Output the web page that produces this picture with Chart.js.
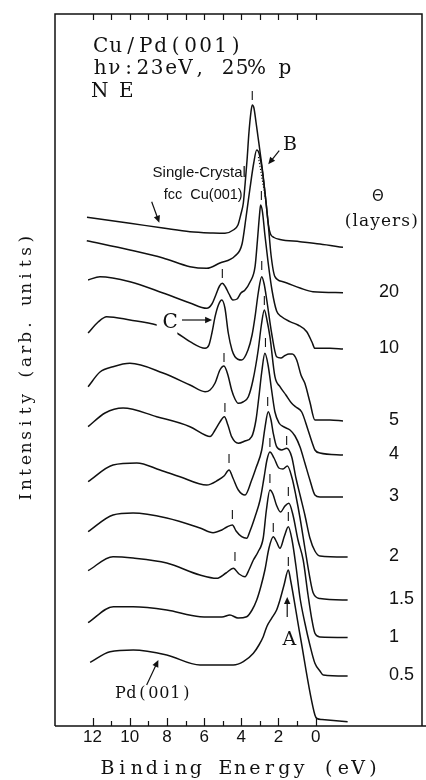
<!DOCTYPE html>
<html><head><meta charset="utf-8">
<script src="https://cdn.jsdelivr.net/npm/chart.js@4.4.1/dist/chart.umd.min.js"></script>
<style>html,body{margin:0;padding:0;background:#fff;}canvas{display:block;}</style>
</head><body>
<canvas id="c" width="426" height="780"></canvas>
<script>
// ---------- data (binding energy in eV, intensity in arb. units incl. vertical offset) ----------
const xTickValues = [12, 10, 8, 6, 4, 2, 0];
const minorTickValues = [12, 11, 10, 9, 8, 7, 6, 5, 4, 3, 2, 1, 0];
const coverageLabels = ['20', '10', '5', '4', '3', '2', '1.5', '1', '0.5'];

const eCu = [12.30, 9.99, 8.21, 6.76, 5.52, 4.88, 4.43, 4.18, 4.02, 3.89, 3.80, 3.69, 3.59, 3.48, 3.41, 3.32, 3.21, 3.10, 2.99, 2.83, 2.67, 2.54, 2.43, 2.24, 1.92, 0.84, -0.23, -1.47];
const iCu = [508.7, 502.7, 498, 494.3, 493, 492.7, 496, 501, 512, 523, 541, 566, 593, 614, 621, 618, 604, 589, 574, 551, 524, 501, 492, 488.5, 486.5, 484.3, 482, 478.7];

const e20 = [12.31, 9.99, 8.21, 6.76, 5.86, 5.15, 4.34, 3.96, 3.75, 3.53, 3.34, 3.17, 3.05, 2.89, 2.73, 2.56, 2.40, 2.19, 1.76, 0.84, 0.15, -1.47];
const i20 = [485.3, 476, 468, 459.3, 457.7, 463, 470, 482, 508, 538, 562, 576, 573, 558, 534, 504, 471, 449.3, 444.3, 438, 434.3, 433.3];

const e10 = [12.24, 11.60, 9.99, 8.21, 6.76, 5.86, 5.58, 5.37, 5.17, 5.02, 4.85, 4.66, 4.45, 4.23, 4.02, 3.80, 3.53, 3.26, 3.13, 3.02, 2.96, 2.86, 2.73, 2.56, 2.35, 2.10, 1.83, 1.38, 0.95, 0.48, 0.20, 0.04, -0.77, -1.47];
const i10 = [446, 449.3, 444.3, 433, 423, 417.7, 422, 431, 440, 442.7, 439, 432, 426, 427, 433, 436, 444, 459.3, 486, 511, 521, 514, 491, 464, 436, 415, 409.3, 404.3, 401, 394.3, 384, 377.7, 377.7, 377];

const e5 = [12.24, 11.70, 11.24, 9.99, 8.55, 7.47, 6.76, 5.95, 5.74, 5.58, 5.41, 5.23, 5.05, 4.88, 4.70, 4.50, 4.34, 3.98, 3.64, 3.42, 3.26, 3.08, 2.90, 2.77, 2.63, 2.37, 2.10, 1.87, 1.65, 1.44, 1.26, 1.02, 0.79, 0.58, 0.31, 0.04, -0.77, -1.47];
const i5 = [393, 404, 409.3, 406, 401, 393, 384.3, 377.7, 381, 393, 409.3, 421, 426, 418, 393, 376, 369.3, 366, 376, 391, 409.3, 434, 449.3, 442, 426, 393, 369.3, 368, 370.5, 372, 372, 366, 351, 342.7, 324, 306, 306, 305];

const e4 = [12.24, 11.60, 10.90, 9.99, 8.21, 6.76, 5.95, 5.68, 5.41, 5.15, 4.93, 4.72, 4.52, 4.34, 4.16, 3.91, 3.62, 3.37, 3.09, 2.92, 2.76, 2.62, 2.46, 2.19, 1.92, 1.60, 1.29, 1.06, 0.75, 0.41, 0.20, 0.04, -0.23, -1.47];
const i4 = [339.3, 354, 359.3, 362.7, 353, 341, 334.3, 336, 343, 356, 360, 351, 336, 327, 322.7, 324, 329.3, 346, 376, 401, 416, 406, 389.3, 349.3, 339.3, 331, 322.7, 319, 314, 296, 284, 276, 273, 271];

const e3 = [12.24, 11.33, 10.36, 8.55, 6.76, 5.95, 5.68, 5.41, 5.15, 4.91, 4.72, 4.52, 4.16, 3.80, 3.44, 3.21, 3.06, 2.90, 2.73, 2.56, 2.37, 2.19, 1.97, 1.70, 1.38, 1.11, 0.84, 0.58, 0.31, 0.04, -0.23, -1.47];
const i3 = [299.3, 313, 318, 309.3, 299.3, 291, 289.5, 296, 304, 309.3, 301, 289.3, 282.7, 285, 289.3, 306, 328, 354, 372.7, 361, 336, 314, 303, 299, 296, 290, 279, 263, 246, 231, 229, 229];

const e2 = [12.24, 10.90, 9.62, 8.37, 7.30, 5.86, 5.24, 4.93, 4.66, 4.45, 4.16, 3.80, 3.44, 3.21, 2.90, 2.73, 2.55, 2.40, 2.28, 2.10, 1.83, 1.56, 1.29, 1.06, 0.84, 0.58, 0.31, 0.04, -0.23, -1.72];
const i2 = [244.3, 261, 263, 256, 249.3, 241, 246, 250, 256, 248, 236, 231, 246, 258, 276, 298, 314.3, 306, 292.7, 279.3, 276, 277.7, 269.3, 248, 231, 211, 188, 175, 170, 169];

const e15 = [12.24, 10.90, 9.82, 8.01, 6.22, 5.52, 5.05, 4.77, 4.48, 4.28, 3.98, 3.71, 3.53, 3.26, 2.99, 2.78, 2.62, 2.46, 2.24, 1.98, 1.76, 1.52, 1.27, 1.06, 0.84, 0.58, 0.31, 0.13, -0.23, -1.72];
const i15 = [194.3, 211, 213, 208, 198, 193.3, 196, 199, 201, 195, 189.3, 187.7, 195, 209.3, 226, 248, 266, 274, 268, 258, 257, 260, 248, 230, 208, 178, 148, 133, 127.5, 126];

const e1 = [12.24, 10.90, 9.82, 8.01, 6.22, 5.32, 4.82, 4.43, 4.12, 3.80, 3.59, 3.35, 3.10, 2.82, 2.65, 2.46, 2.30, 2.11, 1.89, 1.65, 1.44, 1.22, 0.95, 0.67, 0.41, 0.20, 0.04, -0.23, -1.72];
const i1 = [155.3, 169.3, 168, 163, 151, 147.7, 153, 157.7, 152, 149.3, 156, 166, 174, 188, 216, 236, 232, 221, 214, 220, 222.7, 211, 186, 166, 131, 106, 92.7, 89, 88.5];

const e05 = [12.24, 10.88, 9.82, 8.01, 6.22, 5.04, 4.61, 4.18, 3.71, 3.42, 3.17, 2.94, 2.73, 2.51, 2.28, 2.10, 1.92, 1.68, 1.47, 1.27, 1.06, 0.84, 0.58, 0.31, 0.04, -0.23, -0.41, -1.72];
const i05 = [103.3, 119.3, 119.3, 116, 109.3, 109, 111, 108, 109.3, 116, 126, 140, 156, 178, 189.3, 184, 177.7, 190, 199.3, 186, 160, 128, 103, 81, 62.7, 55, 51, 50];

const ePd = [12.13, 11.06, 9.81, 8.01, 6.22, 4.43, 3.89, 3.35, 3.05, 2.82, 2.63, 2.37, 2.10, 1.92, 1.70, 1.47, 1.35, 0.84, 0.04, -0.07, -0.34, -1.72];
const iPd = [63.7, 74.3, 76, 71, 61, 61, 64.3, 72.7, 81, 89.3, 99.3, 107.7, 116, 126, 141, 156, 146, 91, 11, 7.5, 6.5, 4.3];

// peak-position marks (energy, intensity just below the dash)
const peakMarkE = [3.41, 2.92, 5.02, 2.90, 2.76, 4.93, 4.88, 2.70, 2.58, 4.66, 1.56, 2.46, 4.48, 2.46, 1.47, 4.34, 2.28, 1.47, 1.47];
const peakMarkV = [626, 526, 448, 456, 421, 364, 314, 379, 320, 263, 281, 279, 207, 243, 230, 165, 194, 205, 160];
const bMarkE = [3.08, 2.70];
const bMarkV = [569, 527];

// ---------- build datasets ----------
const spectra = [
  {label: 'Single-Crystal fcc Cu(001)', e: eCu, v: iCu},
  {label: '20', e: e20, v: i20},
  {label: '10', e: e10, v: i10},
  {label: '5', e: e5, v: i5},
  {label: '4', e: e4, v: i4},
  {label: '3', e: e3, v: i3},
  {label: '2', e: e2, v: i2},
  {label: '1.5', e: e15, v: i15},
  {label: '1', e: e1, v: i1},
  {label: '0.5', e: e05, v: i05},
  {label: 'Pd(001)', e: ePd, v: iPd}
];
const datasets = spectra.map(s => ({
  label: s.label,
  data: s.e.map((x, k) => ({x: x, y: s.v[k]})),
  borderColor: '#111',
  borderWidth: 1.5,
  pointRadius: 0,
  fill: false,
  cubicInterpolationMode: 'monotone'
}));

const SERIF = '"DejaVu Serif", serif';
const SANS = '"Liberation Sans", Arial, sans-serif';

function cellText(ctx, text, x0, y, cell) {
  ctx.textAlign = 'center';
  [...text].forEach((ch, k) => ctx.fillText(ch, x0 + cell * (k + 0.5), y));
}
function fitText(ctx, text, x, y, width, align) {
  try { ctx.letterSpacing = '0px'; } catch (e) {}
  const w = ctx.measureText(text).width;
  const n = [...text].length;
  let ls = 0;
  if (width && n > 1) ls = (width - w) / (n - 1);
  try { ctx.letterSpacing = ls + 'px'; } catch (e) {}
  const total = w + ls * (n - 1);
  const left = align === 'center' ? x - total / 2 : x;
  ctx.textAlign = 'left';
  ctx.fillText(text, left, y);
  try { ctx.letterSpacing = '0px'; } catch (e) {}
}
function arrow(ctx, x1, y1, x2, y2) {
  const a = Math.atan2(y2 - y1, x2 - x1), L = 7, W = 3.2;
  ctx.beginPath(); ctx.moveTo(x1, y1); ctx.lineTo(x2 - Math.cos(a) * L * 0.6, y2 - Math.sin(a) * L * 0.6); ctx.stroke();
  ctx.beginPath();
  ctx.moveTo(x2, y2);
  ctx.lineTo(x2 - Math.cos(a) * L + Math.sin(a) * W, y2 - Math.sin(a) * L - Math.cos(a) * W);
  ctx.lineTo(x2 - Math.cos(a) * L - Math.sin(a) * W, y2 - Math.sin(a) * L + Math.cos(a) * W);
  ctx.closePath(); ctx.fill();
}

const annotate = {
  id: 'annotate',
  afterDatasetsDraw(chart, args, o) {
    const {ctx, chartArea: ca, scales: {x, y}} = chart;
    const px = e => x.getPixelForValue(e), py = v => y.getPixelForValue(v);
    ctx.save();
    ctx.fillStyle = '#111'; ctx.strokeStyle = '#111';

    // frame
    ctx.lineWidth = 1.5;
    ctx.beginPath();
    ctx.moveTo(ca.left, ca.bottom); ctx.lineTo(ca.left, ca.top); ctx.lineTo(ca.right, ca.top); ctx.lineTo(ca.right, ca.bottom);
    ctx.moveTo(ca.left, ca.bottom); ctx.lineTo(chart.width, ca.bottom);
    ctx.stroke();
    // inward tick marks on bottom and top axes
    ctx.lineWidth = 1.2;
    ctx.beginPath();
    minorTickValues.forEach(e => {
      const xp = Math.round(px(e)) + 0.5;
      ctx.moveTo(xp, ca.bottom); ctx.lineTo(xp, ca.bottom - (e % 2 === 0 ? 8 : 5));
      ctx.moveTo(xp, ca.top); ctx.lineTo(xp, ca.top + 6);
    });
    ctx.stroke();

    // peak position dashes
    ctx.lineWidth = 1.1;
    ctx.beginPath();
    peakMarkE.forEach((e, k) => {
      const xp = px(e), yb = py(peakMarkV[k]);
      ctx.moveTo(xp, yb); ctx.lineTo(xp, yb - o.markLength);
    });
    ctx.stroke();
    // dotted B marker
    ctx.setLineDash([1.2, 1.8]);
    ctx.beginPath(); ctx.moveTo(px(bMarkE[0]), py(bMarkV[0])); ctx.lineTo(px(bMarkE[1]), py(bMarkV[1])); ctx.stroke();
    ctx.setLineDash([]);

    // white gap behind "C"
    ctx.fillStyle = '#fff';
    const g = o.cGap;
    ctx.fillRect(px(g[0]), py(g[3]), px(g[1]) - px(g[0]), py(g[2]) - py(g[3]));
    ctx.fillStyle = '#111';

    // arrows
    ctx.lineWidth = 1.2;
    o.arrows.forEach(a => arrow(ctx, px(a[0]), py(a[1]), px(a[2]), py(a[3])));

    // texts
    o.texts.forEach(t => {
      ctx.font = t.font;
      ctx.textBaseline = t.baseline || 'alphabetic';
      if (t.cell) cellText(ctx, t.text, px(t.e), py(t.v), t.cell);
      else fitText(ctx, t.text, px(t.e), py(t.v), t.width, t.align);
    });

    // coverage labels, aligned on the integer part, at each curve's right baseline
    ctx.font = o.coverageFont;
    ctx.textBaseline = 'middle';
    coverageLabels.forEach((lab, k) => {
      const s = spectra[k + 1];
      const vEnd = s.v[s.v.length - 1];
      const wInt = ctx.measureText(lab.split('.')[0]).width;
      ctx.textAlign = 'left';
      ctx.fillText(lab, px(o.coverageE) - wInt, py(vEnd) - 0.5);
    });

    // axis titles
    ctx.textBaseline = 'alphabetic';
    ctx.font = o.xTitle.font;
    const xt = o.xTitle.text;
    cellText(ctx, xt, px(o.xTitle.e) - xt.length * o.xTitle.cell / 2, ca.bottom + o.xTitle.dy, o.xTitle.cell);
    ctx.save();
    ctx.translate(ca.left - o.yTitle.dx, py(o.yTitle.v));
    ctx.rotate(-Math.PI / 2);
    ctx.font = o.yTitle.font;
    const yt = o.yTitle.text;
    cellText(ctx, yt, -yt.length * o.yTitle.cell / 2, 0, o.yTitle.cell);
    ctx.restore();

    ctx.restore();
  }
};

new Chart(document.getElementById('c'), {
  type: 'line',
  data: {datasets},
  plugins: [annotate],
  options: {
    responsive: false,
    animation: false,
    events: [],
    layout: {padding: {left: 55, right: 4, top: 14, bottom: 0}},
    scales: {
      x: {
        type: 'linear', reverse: true, min: -5.72, max: 14.02,
        afterBuildTicks: s => { s.ticks = xTickValues.map(v => ({value: v})); },
        afterFit: s => { s.height = 54; },
        grid: {display: false, drawTicks: false},
        border: {display: false},
        ticks: {color: '#111', padding: 1, maxRotation: 0, autoSkip: false, font: {family: 'Liberation Sans', size: 17}}
      },
      y: {type: 'linear', display: false, min: 0, max: 712}
    },
    plugins: {
      legend: {display: false},
      tooltip: {enabled: false},
      annotate: {
        markLength: 9,
        cGap: [8.55, 7.44, 388, 418],
        coverageE: -4.48,
        coverageFont: '18px ' + SANS,
        arrows: [
          [8.82, 524.3, 8.41, 503.3],
          [1.96, 575.3, 2.55, 561.7],
          [7.19, 406, 5.57, 406],
          [1.53, 109, 1.53, 129],
          [9.09, 41, 8.46, 66]
        ],
        texts: [
          {text: 'Cu/Pd(001)', e: 11.97, v: 674, font: '20px ' + SERIF, cell: 15},
          {text: 'hν:23eV, 25% p', e: 11.97, v: 652, font: '20px ' + SERIF, cell: 14.2},
          {text: 'N E', e: 11.97, v: 629, font: '20px ' + SERIF, cell: 13.3},
          {text: 'Single-Crystal', e: 6.26, v: 549.5, font: '15px ' + SANS, align: 'center'},
          {text: 'fcc  Cu(001)', e: 6.05, v: 527, font: '14.5px ' + SANS, align: 'center'},
          {text: 'B', e: 1.76, v: 576, font: '19px ' + SERIF, align: 'left'},
          {text: 'Θ', e: -3.35, v: 529, font: '15px "DejaVu Sans"', align: 'center', baseline: 'middle'},
          {text: '(layers)', e: -3.53, v: 500, font: '17px ' + SERIF, width: 73, align: 'center'},
          {text: 'C', e: 7.83, v: 398, font: '20px ' + SERIF, align: 'center'},
          {text: 'A', e: 1.41, v: 81, font: '19px ' + SERIF, align: 'center'},
          {text: 'Pd(001)', e: 10.80, v: 28, font: '16px ' + SERIF, cell: 11}
        ],
        xTitle: {text: 'Binding Energy (eV)', e: 4.06, dy: 48, font: '19px ' + SERIF, cell: 14.74},
        yTitle: {text: 'Intensity (arb. units)', v: 358, dx: 24, font: '17px ' + SERIF, cell: 12.27}
      }
    }
  }
});
</script>
</body></html>
